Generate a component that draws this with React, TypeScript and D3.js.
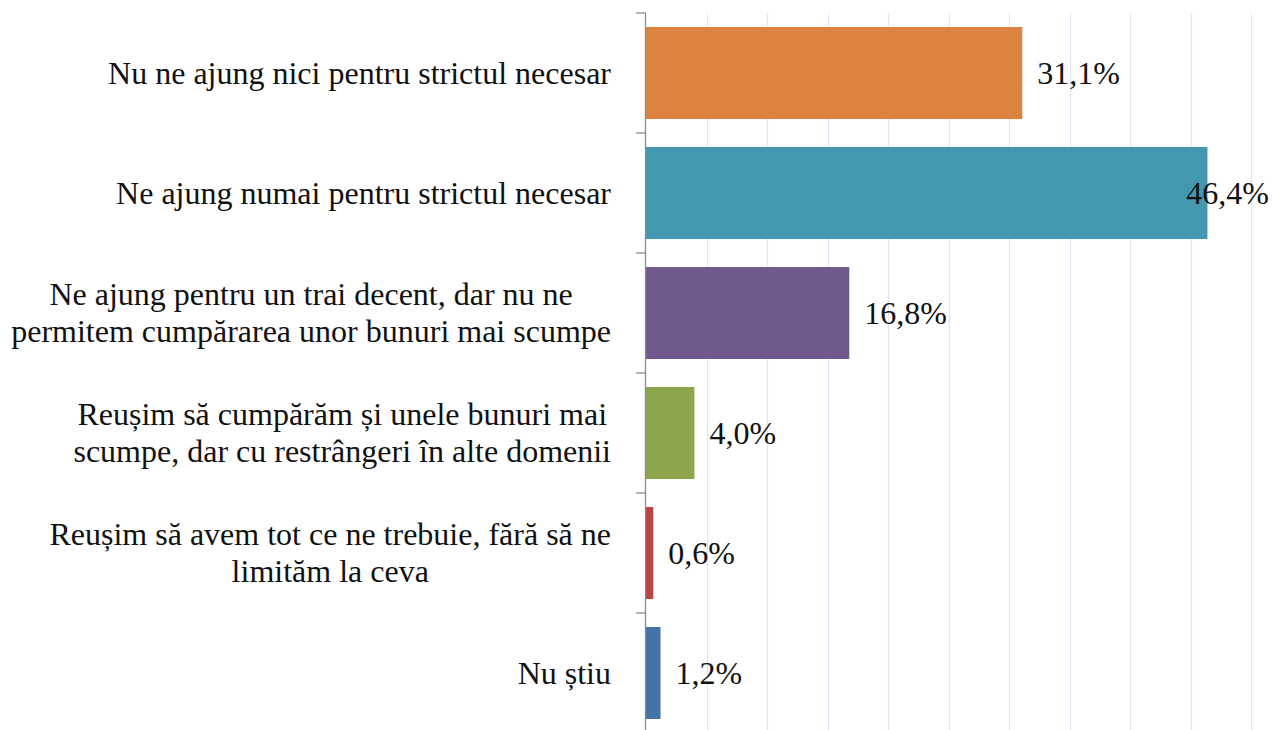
import React, { useEffect, useRef } from "react";
import * as d3 from "d3";

const categories: string[] = [
  "Nu ne ajung nici pentru strictul necesar",
  "Ne ajung numai pentru strictul necesar",
  "Ne ajung pentru un trai decent, dar nu ne\npermitem cumpărarea unor bunuri mai scumpe",
  "Reușim să cumpărăm și unele bunuri mai\nscumpe, dar cu restrângeri în alte domenii",
  "Reușim să avem tot ce ne trebuie, fără să ne\nlimităm la ceva",
  "Nu știu",
];
const values: number[] = [31.1, 46.4, 16.8, 4.0, 0.6, 1.2];
const barColors: string[] = ["#DC843F", "#4398AF", "#705A8D", "#8BA64C", "#B74643", "#4673A7"];
const gridTicks: number[] = [5, 10, 15, 20, 25, 30, 35, 40, 45, 50];

const W = 1273;
const H = 730;
const FONT = "'Liberation Serif', 'Times New Roman', serif";
const FS = 32;

export default function App() {
  const ref = useRef<SVGSVGElement | null>(null);

  useEffect(() => {
    const svg = d3.select(ref.current);
    svg.selectAll("*").remove();

    const x = d3.scaleLinear().domain([0, 50]).range([646, 1251]);
    const y = d3
      .scaleBand<number>()
      .domain(d3.range(categories.length))
      .range([13, 733])
      .paddingInner(0.233)
      .paddingOuter(0.1167);
    const step = y.step();

    // gridlines
    svg
      .append("g")
      .selectAll("line")
      .data(gridTicks)
      .join("line")
      .attr("x1", (d) => Math.round(x(d)) + 0.5)
      .attr("x2", (d) => Math.round(x(d)) + 0.5)
      .attr("y1", 13)
      .attr("y2", H)
      .attr("stroke", "#DCE5F1")
      .attr("stroke-width", 1.2);

    // bars
    svg
      .append("g")
      .selectAll("rect")
      .data(values)
      .join("rect")
      .attr("x", x(0))
      .attr("y", (_, i) => y(i)!)
      .attr("width", (d) => x(d) - x(0))
      .attr("height", y.bandwidth())
      .attr("fill", (_, i) => barColors[i]);

    // axis
    const ax = svg.append("g").attr("stroke", "#8C8C8C").attr("stroke-width", 1.3);
    ax.append("line").attr("x1", 645.5).attr("x2", 645.5).attr("y1", 13).attr("y2", H);
    const bounds = d3.range(categories.length + 1).map((i) => 13 + i * step);
    ax
      .selectAll("line.tick")
      .data(bounds)
      .join("line")
      .attr("class", "tick")
      .attr("x1", 636)
      .attr("x2", 646)
      .attr("y1", (d) => d)
      .attr("y2", (d) => d);

    // category labels
    const labelRight = 611;
    const lineH = FS * 1.15;
    categories.forEach((cat, i) => {
      const lines = cat.split("\n");
      const cy = y(i)! + y.bandwidth() / 2;
      const g = svg.append("g");
      const t = g
        .append("text")
        .attr("font-family", FONT)
        .attr("font-size", FS)
        .attr("fill", "#111")
        .attr("text-anchor", "middle");
      const tspans = lines.map((ln, k) =>
        t
          .append("tspan")
          .attr("y", cy - ((lines.length - 1) * lineH) / 2 + k * lineH + FS * 0.33)
          .text(ln)
      );
      const widths = tspans.map((ts) => (ts.node() as SVGTSpanElement).getComputedTextLength());
      const maxW = d3.max(widths) || 0;
      const cx = labelRight - maxW / 2;
      tspans.forEach((ts) => ts.attr("x", cx));
    });

    // value labels
    values.forEach((v, i) => {
      const cy = y(i)! + y.bandwidth() / 2;
      const t = svg
        .append("text")
        .attr("font-family", FONT)
        .attr("font-size", FS)
        .attr("fill", "#111")
        .attr("y", cy + FS * 0.33)
        .text(v.toFixed(1).replace(".", ",") + "%");
      const w = (t.node() as SVGTextElement).getComputedTextLength();
      const px = Math.min(x(v) + 15, W - 4 - w);
      t.attr("x", px);
    });
  }, []);

  return (
    <svg
      ref={ref}
      width={W}
      height={H}
      style={{ position: "absolute", left: 0, top: 0, background: "#fff" }}
    />
  );
}
